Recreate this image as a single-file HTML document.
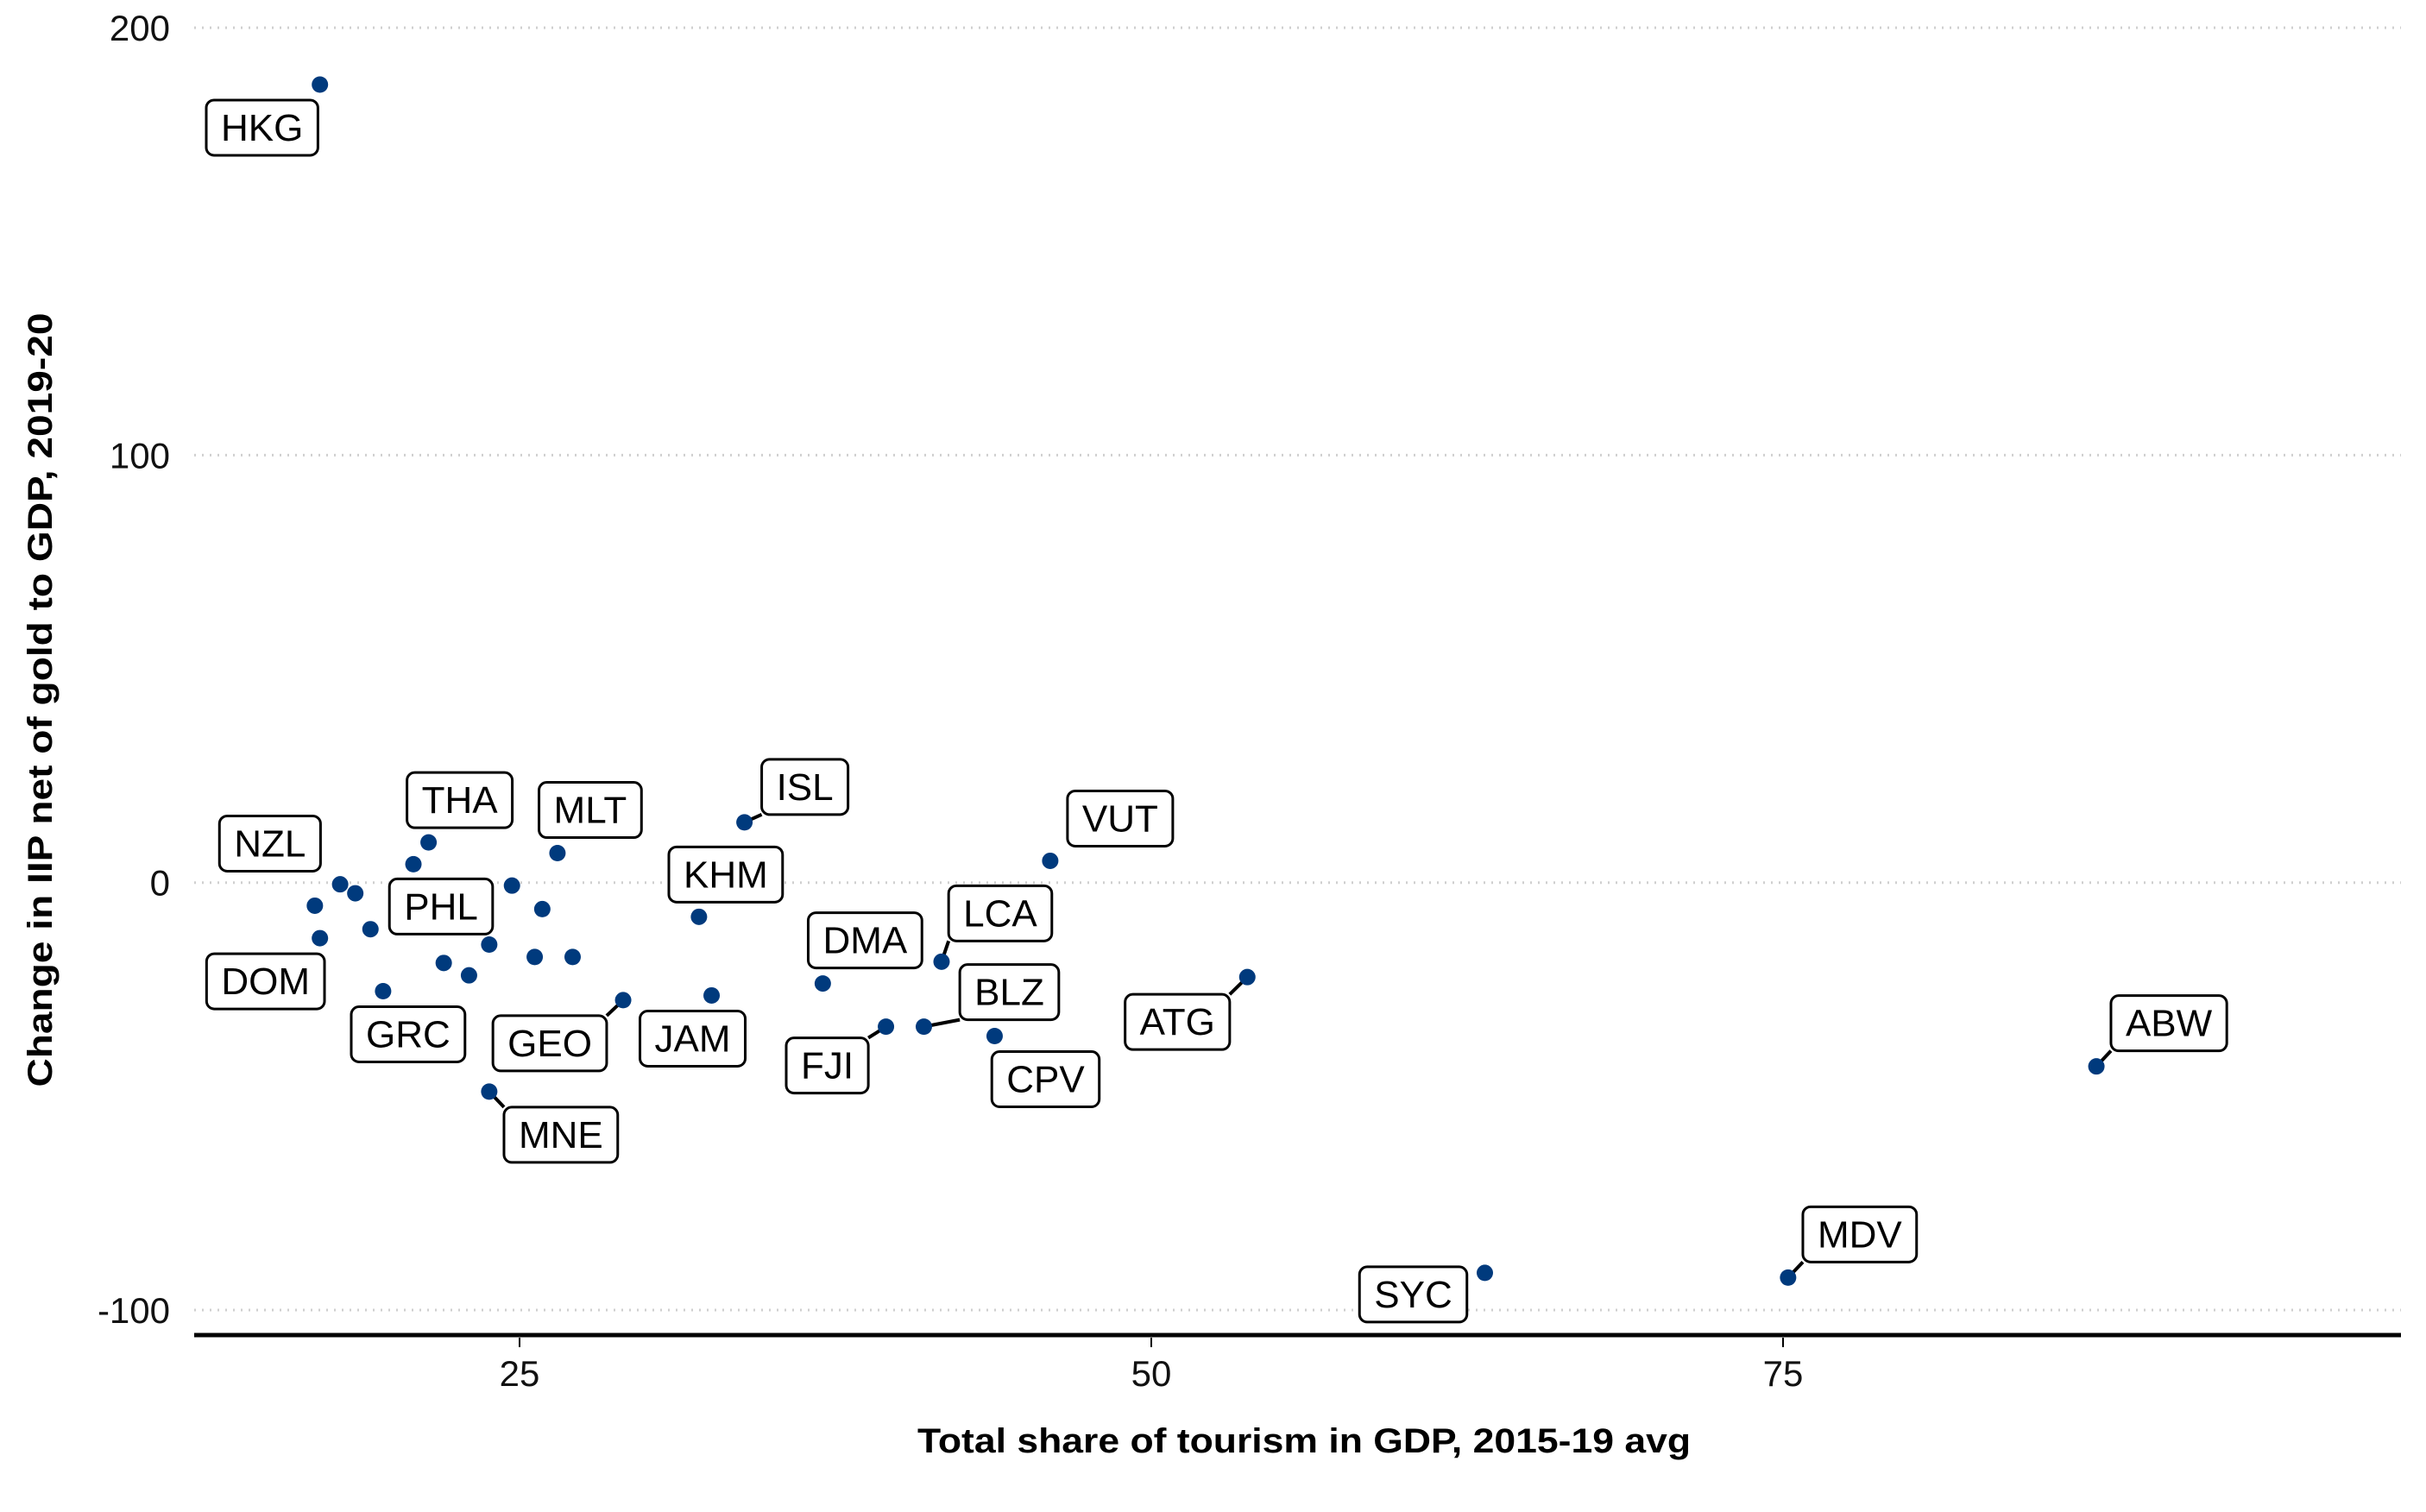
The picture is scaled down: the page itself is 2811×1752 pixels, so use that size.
<!DOCTYPE html>
<html><head><meta charset="utf-8"><style>
html,body{margin:0;padding:0;background:#fff;}
svg{display:block;font-family:"Liberation Sans",sans-serif;}
</style></head><body>
<svg id="chart" width="2811" height="1752" viewBox="0 0 2811 1752" xmlns="http://www.w3.org/2000/svg">
<rect width="2811" height="1752" fill="#fff"/>
<g id="grid"></g>
<g id="axes"></g>
<g id="segs"></g>
<g id="pts"></g>
<g id="labs"></g>
<text x="1511" y="1683" text-anchor="middle" font-size="40" font-weight="bold" textLength="896" lengthAdjust="spacingAndGlyphs">Total share of tourism in GDP, 2015-19 avg</text>
<text transform="translate(60,811) rotate(-90)" text-anchor="middle" font-size="40" font-weight="bold" textLength="897" lengthAdjust="spacingAndGlyphs">Change in IIP net of gold to GDP, 2019-20</text>
</svg>
<script>
const countries=["HKG","NZL","DOM","THA","MLT","ISL","KHM","VUT","PHL","DMA","LCA","BLZ","ATG","GRC","GEO","JAM","FJI","CPV","MNE","ABW","MDV","SYC","","","","","","","","","",""];
const xValues=[17.1,16.9,17.1,21.4,26.5,33.9,32.1,46.0,20.8,37.0,41.7,41.0,53.8,19.6,29.1,32.6,39.5,43.8,23.8,87.4,75.2,63.2,17.9,18.5,19.1,22.0,23.0,23.8,24.7,25.9,25.6,27.1];
const yValues=[186.7,-5.4,-13,9.4,6.9,14.1,-8.0,5.1,4.3,-23.6,-18.5,-33.7,-22.1,-25.4,-27.5,-26.4,-33.7,-35.9,-48.9,-43.0,-92.4,-91.3,-0.4,-2.5,-10.9,-18.8,-21.7,-14.5,-0.7,-6.2,-17.4,-17.4];
const xTicks=[25,50,75];
const yTicks=[-100,0,100,200];
// label layout offsets (px) relative to point
const labelOffsets={HKG:[-67,50],NZL:[-52,-72],DOM:[-63,50],THA:[36,-49],MLT:[38,-50],ISL:[70,-41],KHM:[31,-49],VUT:[81,-49],PHL:[32,49],DMA:[49,-50],LCA:[68,-56],BLZ:[99,-40],ATG:[-81,52],GRC:[29,50],GEO:[-85,50],JAM:[-22,50],FJI:[-68,45],CPV:[59,50],MNE:[83,50],ABW:[84,-50],MDV:[83,-50],SYC:[-83,25]};
const segNames=["ISL","LCA","BLZ","FJI","GEO","MNE","ATG","ABW","MDV"];

const NS="http://www.w3.org/2000/svg";
const X0=225,X1=2782;
function sx(v){return -130+v*29.28;}
function sy(v){return 1022.7-v*4.953;}
function mk(tag,attrs,parent){const e=document.createElementNS(NS,tag);for(const k in attrs)e.setAttribute(k,attrs[k]);parent.appendChild(e);return e;}
const grid=document.getElementById('grid'),axes=document.getElementById('axes'),segs=document.getElementById('segs'),pts=document.getElementById('pts'),labs=document.getElementById('labs');
yTicks.forEach(t=>{
  const l=mk('line',{x1:X0,x2:X1,y1:sy(t),y2:sy(t),stroke:'#cfcfcf','stroke-width':3,'stroke-dasharray':'2 7'},grid);
  
  
  const tx=mk('text',{x:197,y:sy(t)+15,'text-anchor':'end','font-size':42,fill:'#111'},axes);
  tx.textContent=t;
  
  
});
const ax=mk('line',{x1:X0,x2:X1,y1:1547,y2:1547,stroke:'#000','stroke-width':5},axes);


xTicks.forEach(t=>{
  const tk=mk('line',{x1:sx(t),x2:sx(t),y1:1550,y2:1561,stroke:'#000','stroke-width':2},axes);
  
  
  const tx=mk('text',{x:sx(t),y:1606,'text-anchor':'middle','font-size':42,fill:'#111'},axes);
  tx.textContent=t;
  
  
});
xValues.forEach((xv,i)=>{
  const px=sx(xv),py=sy(yValues[i]);
  const c=mk('circle',{cx:px,cy:py,r:9.5,fill:'#003a7d'},pts);
  
  
  const name=countries[i];
  if(!name||!labelOffsets[name])return;
  const [dx,dy]=labelOffsets[name];
  const cx=px+dx,cy=py+dy;
  const g=mk('g',{},labs);
  
  
  const r=mk('rect',{x:0,y:cy-32,width:10,height:64,rx:9,fill:'#fff',stroke:'#000','stroke-width':3},g);
  const t=mk('text',{x:cx,y:cy+15,'text-anchor':'middle','font-size':44},g);
  t.textContent=name;
  const w=t.getComputedTextLength()+34;
  r.setAttribute('x',cx-w/2);r.setAttribute('width',w);
  if(segNames.includes(name)){
    const ex=Math.max(cx-w/2,Math.min(px,cx+w/2)),ey=Math.max(cy-32,Math.min(py,cy+32));
    const s=mk('line',{x1:px,y1:py,x2:ex,y2:ey,stroke:'#000','stroke-width':4},segs);
    
    
  }
});
</script>
</body></html>
